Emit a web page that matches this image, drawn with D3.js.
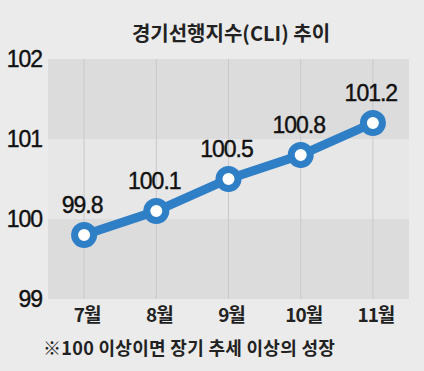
<!DOCTYPE html>
<html>
<head>
<meta charset="utf-8">
<style>
    body { margin: 0; background: #ebebeb; }
    svg { display: block; }
    .num { font-family: "Liberation Sans Narrow", "Liberation Sans", Arial, sans-serif; }
    .kr { font-family: "Noto Sans CJK KR", sans-serif; }
</style>
</head>
<body>
<svg id="chart" width="424" height="371"></svg>
<script src="https://cdn.jsdelivr.net/npm/d3@7"></script>
<script>
var months = ["7월", "8월", "9월", "10월", "11월"];
var cli = [99.8, 100.1, 100.5, 100.8, 101.2];
var yTicks = [99, 100, 101, 102];

var w = 424, h = 371;
var plotL = 48, plotR = 409, plotT = 59, plotB = 299;

var svg = d3.select("#chart");
svg.append("rect").attr("width", w).attr("height", h).attr("fill", "#ebebeb");

var x = d3.scalePoint().domain(months).range([plotL, plotR]).padding(0.5);
var y = d3.scaleLinear().domain([99, 102]).range([plotB, plotT]);

// alternating bands
var bands = [[101, 102], [100, 101], [99, 100]];
svg.selectAll("rect.band")
    .data(bands)
    .enter()
    .append("rect")
    .attr("class", "band")
    .attr("x", plotL)
    .attr("width", plotR - plotL)
    .attr("y", function(d){ return y(d[1]); })
    .attr("height", function(d){ return y(d[0]) - y(d[1]); })
    .attr("fill", function(d, i){ return i % 2 == 0 ? "#dcdcdc" : "#e7e7e7"; });

// vertical guide lines
svg.selectAll("line.grid")
    .data(months)
    .enter()
    .append("line")
    .attr("class", "grid")
    .attr("x1", function(d){ return x(d); })
    .attr("x2", function(d){ return x(d); })
    .attr("y1", plotT)
    .attr("y2", plotB)
    .attr("stroke", "#c9c9c9")
    .attr("stroke-width", 1);

// title
svg.append("text")
    .attr("class", "kr")
    .attr("x", 231).attr("y", 41)
    .attr("text-anchor", "middle")
    .attr("font-size", 20).attr("font-weight", 600)
    .attr("fill", "#222")
    .text("경기선행지수(CLI) 추이");

// y labels
svg.selectAll("text.ylab")
    .data(yTicks)
    .enter()
    .append("text")
    .attr("class", "num ylab")
    .attr("x", 42)
    .attr("y", function(d){ return y(d) + 8; })
    .attr("text-anchor", "end")
    .attr("font-size", 23)
    .attr("letter-spacing", -1)
    .attr("fill", "#111")
    .attr("stroke", "#111").attr("stroke-width", 0.4)
    .text(function(d){ return d; });

// x labels
svg.selectAll("text.xlab")
    .data(months)
    .enter()
    .append("text")
    .attr("class", "kr xlab")
    .attr("x", function(d){ return x(d) + 3; })
    .attr("y", 322)
    .attr("text-anchor", "middle")
    .attr("font-size", 19).attr("font-weight", "bold")
    .attr("letter-spacing", -1)
    .attr("fill", "#222")
    .text(function(d){ return d; });

// line
var line = d3.line()
    .x(function(d, i){ return x(months[i]); })
    .y(function(d){ return y(d); });
svg.append("path")
    .datum(cli)
    .attr("d", line)
    .attr("fill", "none")
    .attr("stroke", "#2f7fc6")
    .attr("stroke-width", 9);

svg.selectAll("circle")
    .data(cli)
    .enter()
    .append("circle")
    .attr("cx", function(d, i){ return x(months[i]); })
    .attr("cy", function(d){ return y(d); })
    .attr("r", 9.5)
    .attr("fill", "white")
    .attr("stroke", "#2f7fc6")
    .attr("stroke-width", 7);

// value labels
svg.selectAll("text.val")
    .data(cli)
    .enter()
    .append("text")
    .attr("class", "num val")
    .attr("x", function(d, i){ return x(months[i]) - 2; })
    .attr("y", function(d){ return y(d) - 22; })
    .attr("text-anchor", "middle")
    .attr("font-size", 23)
    .attr("letter-spacing", -1)
    .attr("fill", "#111")
    .attr("stroke", "#111").attr("stroke-width", 0.4)
    .text(function(d){ return d.toFixed(1); });

// footnote
svg.append("text")
    .attr("class", "kr")
    .attr("x", 43).attr("y", 355)
    .attr("font-size", 18).attr("font-weight", 600)
    .attr("letter-spacing", 0.3)
    .attr("fill", "#222")
    .text("※100 이상이면 장기 추세 이상의 성장");
</script>
</body>
</html>
